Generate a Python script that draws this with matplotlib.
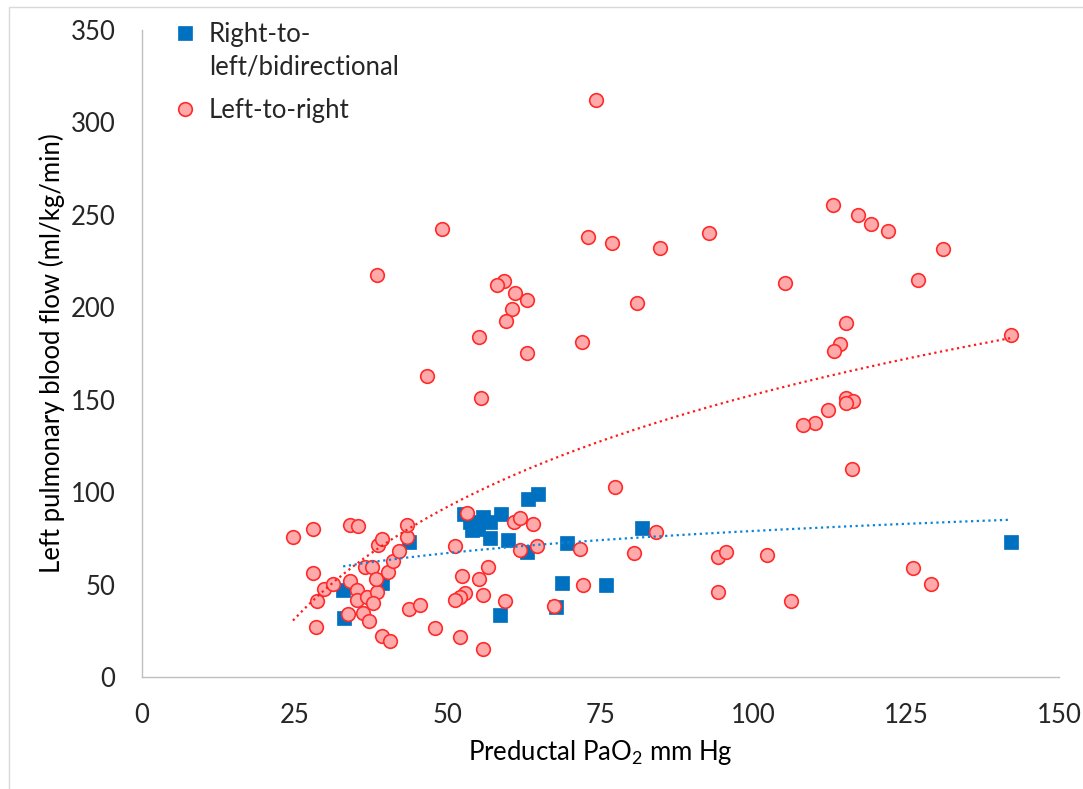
import numpy as np
import matplotlib
matplotlib.use('Agg')
import matplotlib.pyplot as plt

plt.rcParams['font.family'] = ['Lato', 'DejaVu Sans']
plt.rcParams['mathtext.fontset'] = 'custom'
plt.rcParams['mathtext.rm'] = 'Lato'
plt.rcParams['text.color'] = '#262626'
plt.rcParams['xtick.color'] = '#262626'
plt.rcParams['ytick.color'] = '#262626'

# Right-to-left/bidirectional (squares)
rl_x = [33.0, 32.9, 39.2, 43.6, 52.6, 53.7, 55.8, 58.8, 56.9, 53.9, 55.0, 56.9,
        59.9, 63.2, 64.8, 62.9, 69.5, 81.8, 68.7, 75.9, 67.7, 58.5, 142.2]
rl_y = [31.7, 47.1, 50.7, 73.2, 88.4, 84.0, 86.7, 88.4, 84.0, 79.5, 79.8, 75.0,
        74.1, 96.5, 99.2, 67.8, 72.6, 80.7, 50.7, 49.8, 38.0, 33.5, 72.8]

# Left-to-right (circles)
lr_x = [24.7, 27.9, 27.9, 28.6, 28.5, 29.7, 31.2, 34.1, 35.3, 34.1, 35.1, 35.2,
        36.8, 38.4, 37.8, 36.5, 37.7, 38.2, 40.3, 41.0, 38.6, 39.2, 42.1, 43.3,
        43.4, 33.7, 36.2, 37.2, 43.7, 45.4, 39.3, 40.6, 47.9, 51.2, 52.4, 55.2,
        56.6, 52.9, 52.0, 51.2, 55.7, 59.3, 52.0, 55.7, 53.1, 60.9, 61.9, 63.9,
        61.9, 64.6, 71.6, 72.2, 67.4, 77.3, 80.4, 84.1,
        49.1, 38.4, 59.2, 58.0, 61.0, 63.0, 60.5, 59.6, 55.2, 62.9, 46.6, 55.5,
        73.0, 76.9, 84.8, 81.0, 72.0, 74.3,
        92.8, 113.1, 117.2, 119.2, 122.1, 131.1, 105.2, 127.0, 115.2, 114.2, 113.2,
        142.2, 115.2, 116.3, 115.2, 112.2, 110.1, 108.2, 116.1, 94.3, 95.6, 102.2,
        94.3, 106.2, 126.1, 129.1]
lr_y = [75.5, 80.2, 56.2, 40.9, 26.9, 47.8, 50.3, 82.4, 81.8, 52.1, 47.3, 41.9,
        43.1, 45.8, 40.2, 59.7, 59.7, 52.8, 57.0, 62.7, 71.4, 74.8, 68.3, 75.9,
        82.0, 34.1, 34.4, 30.4, 37.0, 38.9, 22.3, 19.5, 26.3, 70.8, 54.6, 53.0,
        59.7, 45.2, 43.1, 41.6, 44.3, 40.9, 21.4, 15.4, 88.5, 83.6, 86.1, 82.7,
        68.7, 70.8, 69.4, 49.6, 38.4, 102.6, 66.9, 78.3,
        242.1, 217.4, 214.3, 212.0, 207.5, 203.9, 199.3, 192.7, 184.1, 175.4, 162.8, 151.1,
        238.1, 234.9, 232.0, 202.5, 181.3, 312.0,
        240.3, 255.3, 250.0, 245.0, 241.5, 231.5, 213.4, 214.7, 191.3, 179.9, 176.5,
        184.8, 150.7, 149.4, 148.0, 144.7, 137.2, 136.3, 112.7, 65.1, 67.4, 65.8,
        46.1, 41.3, 58.8, 50.1]

xticks = [0, 25, 50, 75, 100, 125, 150]
yticks = [0, 50, 100, 150, 200, 250, 300, 350]

blue = '#0070C0'
red_edge = '#FF2B2B'
red_fill = '#FFAAAA'
fs = 18.5

fig = plt.figure(figsize=(10.83, 7.89), dpi=100)
ax = fig.add_axes([142/1083, 1-677/789, 917/1083, 647/789])

# light frame round the chart
fig.add_artist(plt.Rectangle((9/1083, -0.05), 1.2, 1.05-7/789, transform=fig.transFigure,
                             fill=False, edgecolor='#d9d9d9', linewidth=1.0))

ax.plot(rl_x, rl_y, linestyle='none', marker='s', markersize=9.5, color=blue,
        markeredgecolor=blue, markeredgewidth=0.5, zorder=3, label='Right-to-')
ax.plot(lr_x, lr_y, linestyle='none', marker='o', markersize=9.8, markerfacecolor=red_fill,
        markeredgecolor=red_edge, markeredgewidth=1.2, zorder=4, label='Left-to-right')

# logarithmic trend lines (y = a ln x + b)
for xs, ys, c in [(rl_x, rl_y, '#0A84D6'), (lr_x, lr_y, '#FF1A1A')]:
    xs = np.array(xs)
    a, b = np.polyfit(np.log(xs), np.array(ys), 1)
    xx = np.linspace(xs.min(), xs.max(), 300)
    ax.plot(xx, a*np.log(xx) + b, color=c, linestyle=(0, (1, 1.6)), linewidth=1.6, zorder=5)

ax.set_xlim(0, 150)
ax.set_ylim(0, 350)
ax.set_xticks(xticks)
ax.set_yticks(yticks)
ax.tick_params(length=0, pad=19, labelsize=fs)
for s in ['top', 'right']:
    ax.spines[s].set_visible(False)
for s in ['left', 'bottom']:
    ax.spines[s].set_color('#bfbfbf')
    ax.spines[s].set_linewidth(1.0)

ax.set_xlabel(r'Preductal PaO$_\mathrm{2}$ mm Hg', fontsize=fs)
ax.xaxis.set_label_coords(0.5, -0.095)
ax.set_ylabel('Left pulmonary blood flow (ml/kg/min)', fontsize=fs)
ax.yaxis.set_label_coords(-0.084, 0.5)

leg = ax.legend(loc='upper left', bbox_to_anchor=(0.033, 1.013), frameon=False, fontsize=fs,
                borderpad=0, borderaxespad=0, handlelength=1.0, handletextpad=0.42,
                labelspacing=2.0, numpoints=1)
t0 = leg.get_texts()[0]
ax.annotate('left/bidirectional', xy=(0, 0), xycoords=t0, xytext=(0, -6),
            textcoords='offset points', va='top', ha='left', fontsize=fs, zorder=10)

fig.savefig('out.png', dpi=100)
